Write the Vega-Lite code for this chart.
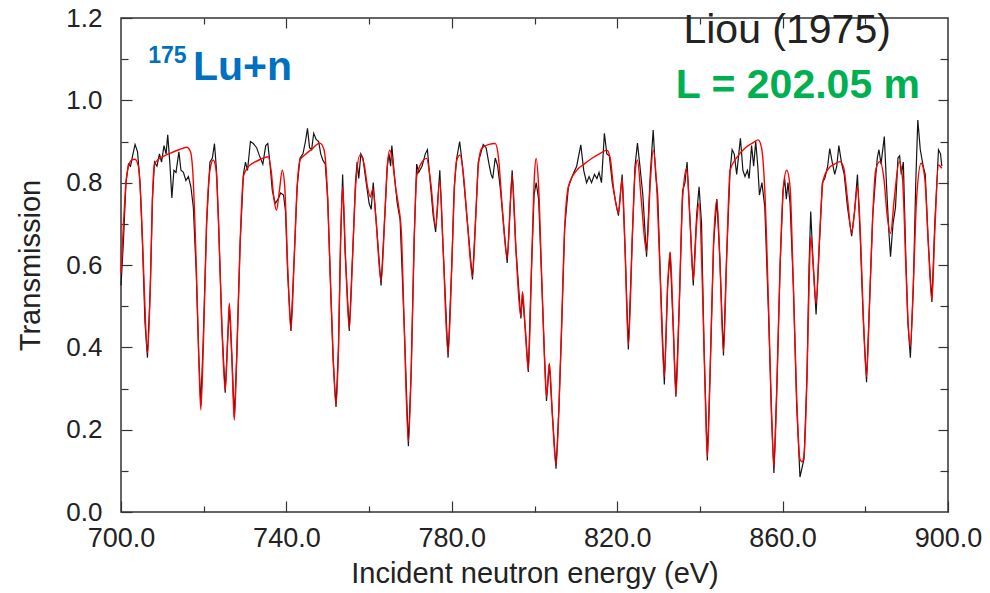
{
"$schema": "https://vega.github.io/schema/vega-lite/v6.json",
"width": 827, "height": 494,
"autosize": {"type": "none"},
"padding": {"left": 121, "top": 18, "right": 42, "bottom": 81},
"config": {
  "view": {"stroke": "#333", "strokeWidth": 1.5},
  "font": "Liberation Sans",
  "axis": {"grid": false, "domain": false, "tickColor": "#333", "tickWidth": 1.2, "labelFont": "Liberation Sans", "labelColor": "#222", "titleFont": "Liberation Sans", "titleColor": "#222", "titleFontWeight": "normal"}
},
"datasets": {
"fit": [{"E":700.0,"T":0.58},{"E":700.6,"T":0.70},{"E":701.2,"T":0.80},{"E":701.8,"T":0.84},{"E":702.6,"T":0.855},{"E":703.4,"T":0.857},{"E":704.2,"T":0.84},{"E":704.9,"T":0.74},{"E":705.6,"T":0.55},{"E":706.4,"T":0.386},{"E":707.1,"T":0.55},{"E":707.6,"T":0.76},{"E":708.1,"T":0.845},{"E":709,"T":0.856},{"E":710.5,"T":0.865},{"E":712,"T":0.872},{"E":714,"T":0.88},{"E":715.9,"T":0.886},{"E":716.8,"T":0.875},{"E":717.4,"T":0.82},{"E":718.2,"T":0.6},{"E":718.8,"T":0.38},{"E":719.3,"T":0.248},{"E":719.9,"T":0.4},{"E":720.7,"T":0.7},{"E":721.5,"T":0.83},{"E":722.3,"T":0.855},{"E":723,"T":0.83},{"E":723.6,"T":0.7},{"E":724.4,"T":0.45},{"E":725.2,"T":0.296},{"E":725.8,"T":0.42},{"E":726.2,"T":0.507},{"E":726.8,"T":0.38},{"E":727.4,"T":0.223},{"E":728,"T":0.38},{"E":728.8,"T":0.65},{"E":729.6,"T":0.815},{"E":730.5,"T":0.835},{"E":732,"T":0.848},{"E":733.8,"T":0.857},{"E":735.6,"T":0.863},{"E":736.3,"T":0.83},{"E":737,"T":0.76},{"E":737.6,"T":0.733},{"E":738.3,"T":0.78},{"E":739,"T":0.83},{"E":739.6,"T":0.79},{"E":740.3,"T":0.6},{"E":741.1,"T":0.442},{"E":741.9,"T":0.62},{"E":742.6,"T":0.79},{"E":743.3,"T":0.855},{"E":744.5,"T":0.868},{"E":746,"T":0.88},{"E":748.1,"T":0.896},{"E":749.1,"T":0.88},{"E":749.8,"T":0.8},{"E":750.6,"T":0.58},{"E":751.3,"T":0.38},{"E":752,"T":0.26},{"E":752.6,"T":0.4},{"E":753.1,"T":0.65},{"E":753.6,"T":0.79},{"E":754.3,"T":0.62},{"E":755.2,"T":0.446},{"E":756,"T":0.62},{"E":756.8,"T":0.8},{"E":757.8,"T":0.867},{"E":758.8,"T":0.845},{"E":759.6,"T":0.79},{"E":760.3,"T":0.765},{"E":760.9,"T":0.785},{"E":761.6,"T":0.72},{"E":762.9,"T":0.56},{"E":763.8,"T":0.72},{"E":764.4,"T":0.84},{"E":765,"T":0.879},{"E":765.7,"T":0.85},{"E":766.4,"T":0.79},{"E":767.1,"T":0.745},{"E":767.8,"T":0.68},{"E":768.5,"T":0.45},{"E":769.5,"T":0.171},{"E":770.2,"T":0.35},{"E":770.9,"T":0.66},{"E":771.5,"T":0.815},{"E":772.5,"T":0.845},{"E":773.9,"T":0.859},{"E":774.9,"T":0.8},{"E":776.1,"T":0.693},{"E":777.1,"T":0.806},{"E":777.9,"T":0.64},{"E":779.1,"T":0.385},{"E":780,"T":0.6},{"E":780.6,"T":0.78},{"E":781.2,"T":0.855},{"E":782,"T":0.867},{"E":782.8,"T":0.82},{"E":783.8,"T":0.7},{"E":785,"T":0.572},{"E":785.8,"T":0.72},{"E":786.4,"T":0.84},{"E":787.2,"T":0.883},{"E":789,"T":0.893},{"E":790.5,"T":0.895},{"E":791.3,"T":0.86},{"E":792.2,"T":0.74},{"E":793.4,"T":0.616},{"E":794.6,"T":0.819},{"E":795.5,"T":0.64},{"E":796.7,"T":0.474},{"E":797.1,"T":0.535},{"E":797.8,"T":0.44},{"E":798.5,"T":0.345},{"E":799.3,"T":0.6},{"E":800,"T":0.82},{"E":800.4,"T":0.859},{"E":801,"T":0.79},{"E":801.8,"T":0.55},{"E":802.4,"T":0.38},{"E":802.9,"T":0.28},{"E":803.6,"T":0.361},{"E":804.3,"T":0.24},{"E":805.2,"T":0.114},{"E":805.9,"T":0.25},{"E":806.5,"T":0.434},{"E":807.3,"T":0.69},{"E":808.2,"T":0.79},{"E":810.2,"T":0.83},{"E":812,"T":0.845},{"E":814,"T":0.86},{"E":816,"T":0.872},{"E":817.5,"T":0.879},{"E":818.3,"T":0.86},{"E":819.2,"T":0.78},{"E":820.3,"T":0.726},{"E":821.2,"T":0.81},{"E":821.9,"T":0.64},{"E":822.7,"T":0.406},{"E":823.7,"T":0.68},{"E":824.3,"T":0.82},{"E":824.9,"T":0.855},{"E":825.8,"T":0.76},{"E":827.1,"T":0.632},{"E":828,"T":0.8},{"E":828.7,"T":0.879},{"E":829.5,"T":0.8},{"E":830.3,"T":0.6},{"E":831.4,"T":0.329},{"E":832.2,"T":0.55},{"E":832.8,"T":0.632},{"E":833.5,"T":0.47},{"E":834.2,"T":0.284},{"E":835,"T":0.5},{"E":835.8,"T":0.76},{"E":836.8,"T":0.835},{"E":837.6,"T":0.71},{"E":838.4,"T":0.564},{"E":839.2,"T":0.7},{"E":839.8,"T":0.75},{"E":840.6,"T":0.55},{"E":841.3,"T":0.28},{"E":841.8,"T":0.134},{"E":842.5,"T":0.35},{"E":843.3,"T":0.65},{"E":844.1,"T":0.758},{"E":844.8,"T":0.62},{"E":845.7,"T":0.39},{"E":846.5,"T":0.63},{"E":847.3,"T":0.83},{"E":849,"T":0.862},{"E":851,"T":0.885},{"E":853,"T":0.898},{"E":854.1,"T":0.904},{"E":854.9,"T":0.885},{"E":855.7,"T":0.78},{"E":856.6,"T":0.5},{"E":857.3,"T":0.25},{"E":857.9,"T":0.11},{"E":858.6,"T":0.3},{"E":859.4,"T":0.6},{"E":860.2,"T":0.79},{"E":861,"T":0.83},{"E":861.8,"T":0.79},{"E":862.6,"T":0.55},{"E":863.4,"T":0.28},{"E":864.2,"T":0.128},{"E":864.7,"T":0.122},{"E":865.2,"T":0.14},{"E":865.9,"T":0.33},{"E":866.4,"T":0.55},{"E":866.8,"T":0.669},{"E":867.4,"T":0.6},{"E":868.1,"T":0.507},{"E":868.9,"T":0.66},{"E":869.8,"T":0.806},{"E":871,"T":0.833},{"E":872.5,"T":0.845},{"E":873.9,"T":0.851},{"E":874.8,"T":0.835},{"E":875.7,"T":0.76},{"E":876.7,"T":0.677},{"E":877.4,"T":0.73},{"E":878.1,"T":0.79},{"E":878.8,"T":0.68},{"E":879.5,"T":0.48},{"E":880.3,"T":0.329},{"E":881,"T":0.5},{"E":881.8,"T":0.72},{"E":882.5,"T":0.83},{"E":883.5,"T":0.851},{"E":884.5,"T":0.81},{"E":885.3,"T":0.72},{"E":886.1,"T":0.677},{"E":887,"T":0.76},{"E":888.2,"T":0.851},{"E":889,"T":0.81},{"E":889.8,"T":0.6},{"E":890.3,"T":0.47},{"E":890.9,"T":0.402},{"E":891.6,"T":0.55},{"E":892.4,"T":0.76},{"E":893.5,"T":0.847},{"E":894.4,"T":0.81},{"E":895.2,"T":0.66},{"E":896.1,"T":0.515},{"E":896.8,"T":0.68},{"E":897.7,"T":0.843},{"E":898.5,"T":0.835}],
"measured": [{"E":700.0,"T":0.55},{"E":700.6,"T":0.66},{"E":701.2,"T":0.8},{"E":701.8,"T":0.845},{"E":702.3,"T":0.84},{"E":702.9,"T":0.87},{"E":703.4,"T":0.893},{"E":704.0,"T":0.875},{"E":704.6,"T":0.8},{"E":705.2,"T":0.65},{"E":705.8,"T":0.46},{"E":706.4,"T":0.375},{"E":707.1,"T":0.55},{"E":707.6,"T":0.76},{"E":708.1,"T":0.85},{"E":708.7,"T":0.84},{"E":709.3,"T":0.87},{"E":709.8,"T":0.85},{"E":710.4,"T":0.89},{"E":710.9,"T":0.87},{"E":711.3,"T":0.916},{"E":711.8,"T":0.85},{"E":712.3,"T":0.763},{"E":712.8,"T":0.83},{"E":713.3,"T":0.825},{"E":714,"T":0.875},{"E":714.5,"T":0.83},{"E":715.1,"T":0.825},{"E":715.7,"T":0.805},{"E":716.3,"T":0.815},{"E":716.9,"T":0.79},{"E":717.5,"T":0.74},{"E":718.2,"T":0.58},{"E":718.8,"T":0.38},{"E":719.3,"T":0.26},{"E":719.9,"T":0.42},{"E":720.7,"T":0.7},{"E":721.5,"T":0.85},{"E":722.1,"T":0.86},{"E":722.6,"T":0.895},{"E":723.1,"T":0.83},{"E":723.6,"T":0.7},{"E":724.4,"T":0.45},{"E":725.2,"T":0.29},{"E":725.8,"T":0.42},{"E":726.2,"T":0.5},{"E":726.8,"T":0.38},{"E":727.4,"T":0.23},{"E":728,"T":0.38},{"E":728.8,"T":0.65},{"E":729.6,"T":0.82},{"E":730.1,"T":0.85},{"E":730.6,"T":0.83},{"E":731.3,"T":0.9},{"E":732,"T":0.895},{"E":732.8,"T":0.885},{"E":733.5,"T":0.865},{"E":734.3,"T":0.845},{"E":735,"T":0.89},{"E":735.5,"T":0.895},{"E":736,"T":0.85},{"E":736.6,"T":0.78},{"E":737.3,"T":0.75},{"E":738,"T":0.76},{"E":738.6,"T":0.775},{"E":739.3,"T":0.77},{"E":739.8,"T":0.73},{"E":740.3,"T":0.58},{"E":741.1,"T":0.44},{"E":741.9,"T":0.62},{"E":742.6,"T":0.79},{"E":743.3,"T":0.86},{"E":744,"T":0.87},{"E":744.6,"T":0.9},{"E":745.1,"T":0.932},{"E":745.6,"T":0.885},{"E":746.1,"T":0.88},{"E":746.6,"T":0.92},{"E":747.2,"T":0.905},{"E":747.8,"T":0.9},{"E":748.3,"T":0.87},{"E":748.8,"T":0.855},{"E":749.4,"T":0.845},{"E":750,"T":0.76},{"E":750.6,"T":0.57},{"E":751.3,"T":0.37},{"E":752,"T":0.255},{"E":752.6,"T":0.4},{"E":753.1,"T":0.66},{"E":753.6,"T":0.82},{"E":754.2,"T":0.63},{"E":755.2,"T":0.44},{"E":756,"T":0.62},{"E":756.7,"T":0.8},{"E":757.1,"T":0.85},{"E":757.5,"T":0.81},{"E":758,"T":0.87},{"E":758.5,"T":0.86},{"E":759.3,"T":0.8},{"E":760,"T":0.75},{"E":760.5,"T":0.735},{"E":761,"T":0.8},{"E":761.6,"T":0.72},{"E":762.9,"T":0.55},{"E":763.8,"T":0.72},{"E":764.4,"T":0.84},{"E":764.8,"T":0.87},{"E":765.2,"T":0.84},{"E":765.5,"T":0.89},{"E":766.1,"T":0.82},{"E":766.8,"T":0.75},{"E":767.5,"T":0.71},{"E":768.5,"T":0.45},{"E":769.5,"T":0.16},{"E":770.2,"T":0.35},{"E":770.9,"T":0.66},{"E":771.5,"T":0.845},{"E":772,"T":0.825},{"E":772.8,"T":0.84},{"E":773.6,"T":0.87},{"E":774.1,"T":0.88},{"E":774.8,"T":0.8},{"E":775.5,"T":0.72},{"E":776.1,"T":0.68},{"E":777.1,"T":0.83},{"E":777.9,"T":0.64},{"E":779.1,"T":0.375},{"E":780,"T":0.6},{"E":780.6,"T":0.79},{"E":781.2,"T":0.86},{"E":781.9,"T":0.9},{"E":782.6,"T":0.84},{"E":783.8,"T":0.7},{"E":785,"T":0.565},{"E":785.8,"T":0.72},{"E":786.4,"T":0.85},{"E":787.1,"T":0.875},{"E":787.6,"T":0.893},{"E":788.3,"T":0.885},{"E":789,"T":0.845},{"E":789.5,"T":0.82},{"E":789.9,"T":0.81},{"E":790.5,"T":0.86},{"E":791.1,"T":0.84},{"E":791.8,"T":0.78},{"E":792.5,"T":0.7},{"E":793.4,"T":0.605},{"E":794.6,"T":0.83},{"E":795.5,"T":0.64},{"E":796.7,"T":0.47},{"E":797.1,"T":0.53},{"E":797.8,"T":0.44},{"E":798.5,"T":0.34},{"E":799.3,"T":0.6},{"E":799.9,"T":0.77},{"E":800.4,"T":0.8},{"E":801,"T":0.76},{"E":801.8,"T":0.55},{"E":802.4,"T":0.38},{"E":802.9,"T":0.27},{"E":803.6,"T":0.36},{"E":804.3,"T":0.24},{"E":805.2,"T":0.105},{"E":805.9,"T":0.25},{"E":806.5,"T":0.43},{"E":807.3,"T":0.69},{"E":808.2,"T":0.79},{"E":809.3,"T":0.82},{"E":810.2,"T":0.84},{"E":811.2,"T":0.892},{"E":811.9,"T":0.83},{"E":812.6,"T":0.8},{"E":813.2,"T":0.815},{"E":813.8,"T":0.8},{"E":814.5,"T":0.82},{"E":815.1,"T":0.81},{"E":815.6,"T":0.825},{"E":816.2,"T":0.8},{"E":816.9,"T":0.92},{"E":817.5,"T":0.87},{"E":818.1,"T":0.865},{"E":818.8,"T":0.8},{"E":819.5,"T":0.76},{"E":820.3,"T":0.72},{"E":821.2,"T":0.82},{"E":821.9,"T":0.64},{"E":822.7,"T":0.395},{"E":823.7,"T":0.68},{"E":824.3,"T":0.84},{"E":824.9,"T":0.896},{"E":825.5,"T":0.84},{"E":826.2,"T":0.77},{"E":827.1,"T":0.62},{"E":828,"T":0.82},{"E":828.7,"T":0.928},{"E":829.3,"T":0.82},{"E":829.8,"T":0.77},{"E":830.5,"T":0.55},{"E":831.4,"T":0.31},{"E":832.2,"T":0.55},{"E":832.8,"T":0.63},{"E":833.5,"T":0.46},{"E":834.2,"T":0.28},{"E":835,"T":0.5},{"E":835.8,"T":0.78},{"E":836.4,"T":0.8},{"E":836.9,"T":0.85},{"E":837.6,"T":0.71},{"E":838.4,"T":0.55},{"E":839.2,"T":0.72},{"E":839.8,"T":0.79},{"E":840.4,"T":0.7},{"E":841,"T":0.4},{"E":841.8,"T":0.125},{"E":842.5,"T":0.35},{"E":843.3,"T":0.65},{"E":844.1,"T":0.76},{"E":844.8,"T":0.62},{"E":845.7,"T":0.38},{"E":846.5,"T":0.63},{"E":847.3,"T":0.83},{"E":847.8,"T":0.88},{"E":848.3,"T":0.87},{"E":848.9,"T":0.82},{"E":849.4,"T":0.87},{"E":849.8,"T":0.908},{"E":850.4,"T":0.83},{"E":850.9,"T":0.815},{"E":851.5,"T":0.83},{"E":851.9,"T":0.81},{"E":852.5,"T":0.89},{"E":853,"T":0.84},{"E":853.5,"T":0.9},{"E":854,"T":0.84},{"E":854.4,"T":0.77},{"E":855,"T":0.8},{"E":855.7,"T":0.74},{"E":856.6,"T":0.48},{"E":857.3,"T":0.24},{"E":857.9,"T":0.095},{"E":858.6,"T":0.3},{"E":859.4,"T":0.6},{"E":860.1,"T":0.78},{"E":860.5,"T":0.81},{"E":860.9,"T":0.76},{"E":861.3,"T":0.8},{"E":861.8,"T":0.75},{"E":862.6,"T":0.55},{"E":863.4,"T":0.26},{"E":864.2,"T":0.085},{"E":865.2,"T":0.13},{"E":865.9,"T":0.33},{"E":866.4,"T":0.6},{"E":866.8,"T":0.73},{"E":867.4,"T":0.6},{"E":868.1,"T":0.48},{"E":868.9,"T":0.65},{"E":869.6,"T":0.8},{"E":870.2,"T":0.81},{"E":870.9,"T":0.84},{"E":871.4,"T":0.883},{"E":872,"T":0.85},{"E":872.6,"T":0.82},{"E":873.1,"T":0.84},{"E":873.6,"T":0.89},{"E":874.3,"T":0.845},{"E":874.9,"T":0.82},{"E":875.7,"T":0.74},{"E":876.7,"T":0.67},{"E":877.4,"T":0.73},{"E":878.1,"T":0.82},{"E":878.8,"T":0.66},{"E":879.5,"T":0.47},{"E":880.3,"T":0.315},{"E":881,"T":0.5},{"E":881.8,"T":0.72},{"E":882.4,"T":0.8},{"E":882.9,"T":0.86},{"E":883.3,"T":0.88},{"E":883.8,"T":0.845},{"E":884.6,"T":0.912},{"E":885.2,"T":0.78},{"E":885.7,"T":0.68},{"E":886.1,"T":0.62},{"E":886.7,"T":0.7},{"E":887.3,"T":0.74},{"E":887.9,"T":0.86},{"E":888.3,"T":0.865},{"E":888.7,"T":0.82},{"E":889.2,"T":0.85},{"E":889.8,"T":0.62},{"E":890.3,"T":0.46},{"E":890.9,"T":0.375},{"E":891.6,"T":0.54},{"E":892.2,"T":0.8},{"E":892.7,"T":0.952},{"E":893.3,"T":0.88},{"E":894,"T":0.84},{"E":894.5,"T":0.82},{"E":895.2,"T":0.66},{"E":896.1,"T":0.51},{"E":896.8,"T":0.7},{"E":897.3,"T":0.8},{"E":897.7,"T":0.88},{"E":898.2,"T":0.87},{"E":898.5,"T":0.84}]
},
"resolve": {"axis": {"x": "independent", "y": "independent"}},
"layer": [
  {
    "data": {"name": "measured"},
    "mark": {"type": "line", "color": "#151515", "strokeWidth": 1.2},
    "encoding": {
      "x": {"field": "E", "type": "quantitative", "scale": {"domain": [700, 900], "nice": false, "zero": false},
        "axis": {"orient": "bottom", "values": [700,720,740,760,780,800,820,840,860,880,900],
          "labelExpr": "datum.value % 40 == 0 ? '' : format(datum.value, '.1f')",
          "tickSize": {"condition": {"test": "datum.value % 40 == 0", "value": -6}, "value": -11},
          "labelPadding": 24, "labelFontSize": 27, "labelFlush": false,
          "title": "Incident neutron energy (eV)", "titleFontSize": 29, "titlePadding": 8}},
      "y": {"field": "T", "type": "quantitative", "scale": {"domain": [0, 1.2], "nice": false, "zero": false},
        "axis": {"orient": "left", "values": [0,0.1,0.2,0.3,0.4,0.5,0.6,0.7,0.8,0.9,1.0,1.1,1.2],
          "labelExpr": "round(datum.value*10) % 2 == 1 ? '' : format(datum.value, '.1f')",
          "tickSize": {"condition": {"test": "round(datum.value*10) % 2 == 1", "value": -7}, "value": -11},
          "labelPadding": 30, "labelFontSize": 26, "labelFlush": false,
          "title": "Transmission", "titleFontSize": 29, "titlePadding": 20}}
    }
  },
  {
    "data": {"name": "fit"},
    "mark": {"type": "line", "color": "#ff0000", "strokeWidth": 1.4, "interpolate": "monotone"},
    "encoding": {
      "x": {"field": "E", "type": "quantitative", "scale": {"domain": [700, 900], "nice": false, "zero": false},
        "axis": {"orient": "top", "values": [720,740,760,780,800,820,840,860,880], "labels": false, "title": null,
          "tickSize": {"condition": {"test": "datum.value % 40 == 0", "value": -6}, "value": -10}}},
      "y": {"field": "T", "type": "quantitative", "scale": {"domain": [0, 1.2], "nice": false, "zero": false},
        "axis": {"orient": "right", "values": [0.1,0.2,0.3,0.4,0.5,0.6,0.7,0.8,0.9,1.0,1.1], "labels": false, "title": null,
          "tickSize": {"condition": {"test": "round(datum.value*10) % 2 == 1", "value": -8}, "value": -10}}}
    }
  },
  {
    "mark": {"type": "rect", "color": "white", "zindex": 2},
    "encoding": {
      "x": {"datum": 830.3, "type": "quantitative", "scale": {"domain": [700, 900], "nice": false, "zero": false}, "axis": null},
      "x2": {"datum": 892.5},
      "y": {"datum": 1.165, "type": "quantitative", "scale": {"domain": [0, 1.2], "nice": false, "zero": false}, "axis": null},
      "y2": {"datum": 1.235}
    }
  },
  {
    "data": {"values": [{"E": 861.1, "T": 1.139, "label": "Liou (1975)"}]},
    "mark": {"type": "text", "align": "center", "baseline": "alphabetic", "fontSize": 41, "color": "#222222", "font": "Liberation Sans", "zindex": 3},
    "encoding": {
      "x": {"field": "E", "type": "quantitative", "scale": {"domain": [700, 900], "nice": false, "zero": false}, "axis": null},
      "y": {"field": "T", "type": "quantitative", "scale": {"domain": [0, 1.2], "nice": false, "zero": false}, "axis": null},
      "text": {"field": "label"}
    }
  },
  {
    "data": {"values": [{"E": 863.7, "T": 1.006, "label": "L = 202.05 m"}]},
    "mark": {"type": "text", "align": "center", "baseline": "alphabetic", "fontSize": 41, "fontWeight": "bold", "color": "#00b050", "font": "Liberation Sans", "zindex": 3},
    "encoding": {
      "x": {"field": "E", "type": "quantitative", "scale": {"domain": [700, 900], "nice": false, "zero": false}, "axis": null},
      "y": {"field": "T", "type": "quantitative", "scale": {"domain": [0, 1.2], "nice": false, "zero": false}, "axis": null},
      "text": {"field": "label"}
    }
  },
  {
    "data": {"values": [{"E": 706.6, "T": 1.091, "label": "175"}]},
    "mark": {"type": "text", "align": "left", "baseline": "alphabetic", "fontSize": 23, "fontWeight": "bold", "color": "#0070c0", "font": "Liberation Sans", "zindex": 3},
    "encoding": {
      "x": {"field": "E", "type": "quantitative", "scale": {"domain": [700, 900], "nice": false, "zero": false}, "axis": null},
      "y": {"field": "T", "type": "quantitative", "scale": {"domain": [0, 1.2], "nice": false, "zero": false}, "axis": null},
      "text": {"field": "label"}
    }
  },
  {
    "data": {"values": [{"E": 717.4, "T": 1.049, "label": "Lu+n"}]},
    "mark": {"type": "text", "align": "left", "baseline": "alphabetic", "fontSize": 41, "fontWeight": "bold", "color": "#0070c0", "font": "Liberation Sans", "zindex": 3},
    "encoding": {
      "x": {"field": "E", "type": "quantitative", "scale": {"domain": [700, 900], "nice": false, "zero": false}, "axis": null},
      "y": {"field": "T", "type": "quantitative", "scale": {"domain": [0, 1.2], "nice": false, "zero": false}, "axis": null},
      "text": {"field": "label"}
    }
  }
]
}
